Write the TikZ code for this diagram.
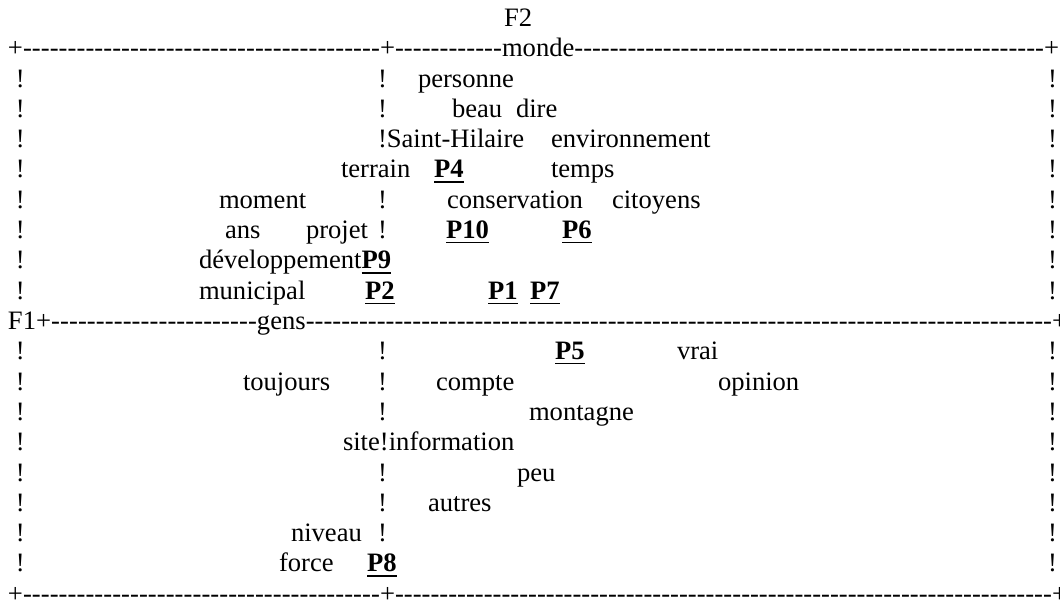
\documentclass[tikz,border=0pt]{standalone}
\usepackage{fontspec}
\setmainfont{Liberation Serif}
% a run of hyphens filling a given width
\newcommand\dashrun[1]{\hbox to #1pt{\xleaders\hbox{-}\hfill}}
% bold underlined point label: name, x, y, text
\newcommand\pmark[4]{%
  \node[plabel] (#1) at (#2,#3) {#4};
  \draw[uline] ([yshift=-4pt]#1.base west) -- ([yshift=-4pt]#1.base east);}
\begin{document}
\begin{tikzpicture}[x=1pt,y=-1pt,
  word/.style={anchor=base west,inner sep=0pt,outer sep=0pt,
    font=\fontsize{26.6}{30.3}\selectfont},
  plabel/.style={word,font=\fontsize{26.6}{30.3}\selectfont\bfseries},
  uline/.style={line width=1.3pt}]
\useasboundingbox (0,0) rectangle (1060,607);
\fill[white] (0,0) rectangle (1060,607);

% axis title
\node[word] (f2) at (504,26.5) {F2};

% top border
\node[word] (tl) at (8,56.8) {+};
\node[word] (tdl) at (tl.base east) {\dashrun{357}};
\node[word] (tm) at (tdl.base east) {+};
\node[word] (tdm) at (tm.base east) {\dashrun{107}};
\node[word] (monde) at (tdm.base east) {monde};
\node[word] (tdr) at (monde.base east) {\dashrun{469.6}};
\node[word] (tr) at (tdr.base east) {+};

% side borders
\foreach \r/\y in {2/87.1,3/117.4,4/147.7,5/178.0,6/208.3,7/238.6,8/268.9,9/299.2,
                   11/359.8,12/390.1,13/420.4,14/450.7,15/481.0,16/511.3,17/541.6,18/571.9}{
  \node[word] (lb\r) at (16,\y) {!};
  \node[word] (rb\r) at (1048,\y) {!};
}
% vertical axis marks
\foreach \r/\y in {2/87.1,3/117.4,6/208.3,7/238.6,11/359.8,12/390.1,13/420.4,
                   15/481.0,16/511.3,17/541.6}{
  \node[word] (cb\r) at (378,\y) {!};
}

% upper half
\node[word] (personne) at (418,87.1) {personne};
\node[word] (beau) at (452,117.4) {beau};
\node[word] (dire) at (516,117.4) {dire};
\node[word] (sainthilaire) at (378,147.7) {!Saint-Hilaire};
\node[word] (environnement) at (551,147.7) {environnement};
\node[word] (terrain) at (341,178.0) {terrain};
\pmark{p4}{434}{178.0}{P4}
\node[word] (temps) at (551,178.0) {temps};
\node[word] (moment) at (219,208.3) {moment};
\node[word] (conservation) at (447,208.3) {conservation};
\node[word] (citoyens) at (612,208.3) {citoyens};
\node[word] (ans) at (225,238.6) {ans};
\node[word] (projet) at (306,238.6) {projet};
\pmark{p10}{446}{238.6}{P10}
\pmark{p6}{562}{238.6}{P6}
\node[word] (developpement) at (199,268.9) {développement};
\pmark{p9}{361.5}{268.9}{P9}
\node[word] (municipal) at (199,299.2) {municipal};
\pmark{p2}{365}{299.2}{P2}
\pmark{p1}{488}{299.2}{P1}
\pmark{p7}{530}{299.2}{P7}

% horizontal axis
\node[word] (f1) at (8,329.5) {F1};
\node[word] (hl) at (f1.base east) {+};
\node[word] (hdl) at (hl.base east) {\dashrun{205.9}};
\node[word] (gens) at (hdl.base east) {gens};
\node[word] (hdr) at (gens.base east) {\dashrun{746.3}};
\node[word] (hr) at (hdr.base east) {+};

% lower half
\pmark{p5}{555}{359.8}{P5}
\node[word] (vrai) at (677,359.8) {vrai};
\node[word] (toujours) at (243,390.1) {toujours};
\node[word] (compte) at (436,390.1) {compte};
\node[word] (opinion) at (718,390.1) {opinion};
\node[word] (montagne) at (529,420.4) {montagne};
\node[word] (site) at (343,450.7) {site!information};
\node[word] (peu) at (517,481.0) {peu};
\node[word] (autres) at (428,511.3) {autres};
\node[word] (niveau) at (291,541.6) {niveau};
\node[word] (force) at (279,571.9) {force};
\pmark{p8}{367}{571.9}{P8}

% bottom border
\node[word] (bl) at (8,602.2) {+};
\node[word] (bdl) at (bl.base east) {\dashrun{357}};
\node[word] (bm) at (bdl.base east) {+};
\node[word] (bdr) at (bm.base east) {\dashrun{657}};
\node[word] (br) at (bdr.base east) {+};
\end{tikzpicture}
\end{document}
